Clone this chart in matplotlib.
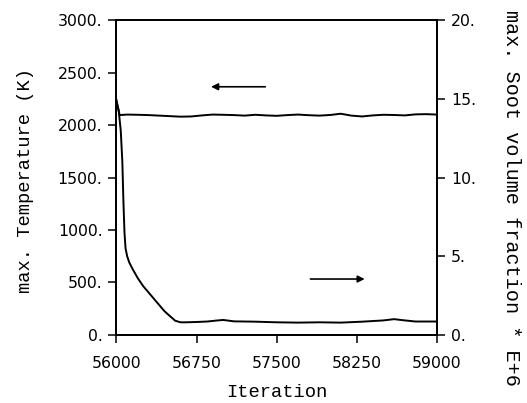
import matplotlib
matplotlib.use("Agg")
import matplotlib.pyplot as plt
from matplotlib.ticker import FuncFormatter

# max temperature (left axis)
temp_iter = [56000, 56015, 56030, 56100, 56200, 56300, 56400, 56500, 56600, 56700, 56800,
             56900, 57000, 57100, 57200, 57300, 57400, 57500, 57600, 57700, 57800,
             57900, 58000, 58100, 58200, 58300, 58400, 58500, 58600, 58700, 58800,
             58900, 59000]
temp_vals = [2240, 2160, 2095, 2100, 2098, 2095, 2090, 2085, 2080, 2082, 2092,
             2100, 2098, 2095, 2090, 2098, 2092, 2088, 2095, 2100, 2094,
             2090, 2096, 2108, 2090, 2082, 2092, 2098, 2096, 2092, 2102,
             2104, 2100]

# max soot volume fraction * 1e6 (right axis)
soot_iter = [56000, 56020, 56040, 56055, 56065, 56075, 56085, 56100, 56120, 56150,
             56200, 56250, 56300, 56350, 56400, 56450, 56500, 56550, 56600, 56650,
             56750, 56850, 56950, 57000, 57100, 57300, 57500, 57700, 57900, 58100,
             58300, 58500, 58600, 58700, 58800, 59000]
soot_vals = [14.8, 14.3, 13.0, 11.0, 8.5, 6.5, 5.5, 5.0, 4.6, 4.2,
             3.6, 3.1, 2.7, 2.3, 1.9, 1.5, 1.2, 0.9, 0.8, 0.8,
             0.82, 0.85, 0.92, 0.95, 0.86, 0.84, 0.8, 0.78, 0.8, 0.78,
             0.84, 0.92, 1.0, 0.92, 0.85, 0.85]

x_ticks = [56000, 56750, 57500, 58250, 59000]
temp_ticks = [0, 500, 1000, 1500, 2000, 2500, 3000]
soot_ticks = [0, 5, 10, 15, 20]

tick_font = {"family": "DejaVu Sans", "size": 11.3}
label_font = {"family": "Liberation Mono", "size": 13.5}

fig = plt.figure(figsize=(5.27, 4.03), dpi=100)
ax = fig.add_axes([0.221, 0.169, 0.608, 0.781])
ax2 = ax.twinx()

ax.plot(temp_iter, temp_vals, color="black", lw=1.4)
ax2.plot(soot_iter, soot_vals, color="black", lw=1.4)

ax.set_xlim(56000, 59000)
ax.set_ylim(0, 3000)
ax2.set_ylim(0, 20)

ax.set_xticks(x_ticks)
ax.set_yticks(temp_ticks)
ax2.set_yticks(soot_ticks)
ax.yaxis.set_major_formatter(FuncFormatter(lambda v, p: f"{int(v)}."))
ax2.yaxis.set_major_formatter(FuncFormatter(lambda v, p: f"{int(v)}."))

for a in (ax, ax2):
    for s in a.spines.values():
        s.set_linewidth(1.3)
    a.tick_params(direction="out", length=6, width=1.1, color="black", pad=4)
    for lab in a.get_xticklabels() + a.get_yticklabels():
        lab.set_fontfamily(tick_font["family"])
        lab.set_fontsize(tick_font["size"])
ax.tick_params(axis="x", pad=9)

ax.set_xlabel("Iteration", fontdict=label_font)
ax.xaxis.set_label_coords(0.5, -0.155)
ax.set_ylabel("max. Temperature (K)", fontdict=label_font)
ax.yaxis.set_label_coords(-0.257, 0.492)
ax2.set_ylabel("max. Soot volume fraction * E+6", family="Liberation Mono",
               size=14.5, rotation=-90, va="center")
ax2.yaxis.set_label_coords(1.233, 0.435)

# direction arrows
ax.annotate("", xy=(56860, 2365), xytext=(57420, 2365),
            arrowprops=dict(arrowstyle="-|>", color="black", lw=1.2,
                            mutation_scale=10))
ax2.annotate("", xy=(58350, 3.55), xytext=(57790, 3.55),
             arrowprops=dict(arrowstyle="-|>", color="black", lw=1.2,
                             mutation_scale=10))

fig.savefig("out.png", dpi=100)
